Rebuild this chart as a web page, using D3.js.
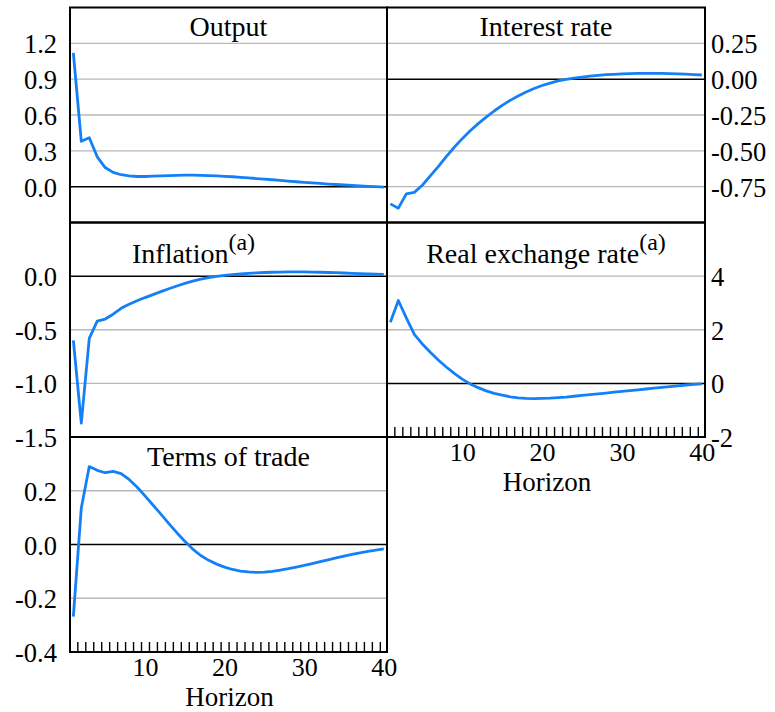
<!DOCTYPE html>
<html>
<head>
<meta charset="utf-8">
<script src="https://cdn.jsdelivr.net/npm/d3@7"></script>
<style>
  html, body { margin: 0; padding: 0; background: #ffffff; }
  svg { display: block; }
  text { font-family: "Liberation Serif", "Times New Roman", serif; fill: #000; }
</style>
</head>
<body>
<svg id="chart" width="775" height="712"></svg>
<script>
// Impulse responses over a 40-quarter horizon
const horizon = d3.range(1, 41);

const output = [1.12, 0.38, 0.41, 0.25, 0.16, 0.12, 0.10, 0.09, 0.085, 0.085,
  0.088, 0.09, 0.093, 0.095, 0.096, 0.096, 0.095, 0.093, 0.09, 0.087,
  0.083, 0.078, 0.073, 0.068, 0.063, 0.058, 0.052, 0.046, 0.041, 0.036,
  0.031, 0.027, 0.022, 0.018, 0.014, 0.010, 0.006, 0.003, 0.0, -0.004];

const interestRate = [-0.87, -0.90, -0.80, -0.79, -0.74, -0.675, -0.61, -0.54, -0.475, -0.415,
  -0.36, -0.31, -0.265, -0.222, -0.183, -0.148, -0.117, -0.089, -0.065, -0.044,
  -0.027, -0.012, -0.002, 0.007, 0.015, 0.021, 0.027, 0.031, 0.034, 0.037,
  0.039, 0.040, 0.041, 0.041, 0.040, 0.039, 0.037, 0.035, 0.032, 0.029];

const inflation = [-0.60, -1.37, -0.58, -0.42, -0.40, -0.355, -0.30, -0.262, -0.23, -0.20,
  -0.172, -0.145, -0.118, -0.092, -0.068, -0.047, -0.029, -0.014, -0.003, 0.006,
  0.014, 0.020, 0.026, 0.030, 0.034, 0.036, 0.038, 0.039, 0.039, 0.039,
  0.038, 0.036, 0.034, 0.032, 0.029, 0.026, 0.024, 0.021, 0.019, 0.017];

const realExchangeRate = [2.28, 3.09, 2.44, 1.83, 1.47, 1.16, 0.87, 0.61, 0.37, 0.16,
  -0.02, -0.16, -0.28, -0.37, -0.44, -0.50, -0.54, -0.56, -0.57, -0.56,
  -0.55, -0.53, -0.51, -0.48, -0.45, -0.42, -0.39, -0.36, -0.33, -0.30,
  -0.27, -0.24, -0.21, -0.18, -0.15, -0.12, -0.09, -0.06, -0.04, -0.02];

const termsOfTrade = [-0.268, 0.136, 0.29, 0.276, 0.267, 0.272, 0.264, 0.242, 0.214, 0.181,
  0.147, 0.113, 0.078, 0.044, 0.012, -0.017, -0.041, -0.059, -0.073, -0.084,
  -0.093, -0.099, -0.102, -0.104, -0.103, -0.100, -0.095, -0.090, -0.084, -0.078,
  -0.071, -0.064, -0.057, -0.050, -0.043, -0.037, -0.031, -0.026, -0.021, -0.016];

// Tick values and their printed labels
const outputTicks = [0, 0.3, 0.6, 0.9, 1.2];
const outputTickLabels = ["0.0", "0.3", "0.6", "0.9", "1.2"];
const interestTicks = [-0.75, -0.5, -0.25, 0, 0.25];
const interestTickLabels = ["-0.75", "-0.50", "-0.25", "0.00", "0.25"];
const inflationTicks = [-1.5, -1.0, -0.5, 0];
const inflationTickLabels = ["-1.5", "-1.0", "-0.5", "0.0"];
const rerTicks = [-2, 0, 2, 4];
const rerTickLabels = ["-2", "0", "2", "4"];
const totTicks = [-0.4, -0.2, 0, 0.2];
const totTickLabels = ["-0.4", "-0.2", "0.0", "0.2"];
const horizonTicks = [10, 20, 30, 40];

const svg = d3.select("#chart");

const cols = [[70, 387], [387, 705]];
const rows = [[7.5, 222.5], [222.5, 437], [437, 652]];

const panels = [
  { title: "Output", sup: null, values: output, col: 0, row: 0, domain: [-0.3, 1.5],
    ticks: outputTicks, labels: outputTickLabels, side: "left", xAxis: false, titleY: 36 },
  { title: "Interest rate", sup: null, values: interestRate, col: 1, row: 0, domain: [-1.0, 0.5],
    ticks: interestTicks, labels: interestTickLabels, side: "right", xAxis: false, titleY: 36 },
  { title: "Inflation", sup: "(a)", values: inflation, col: 0, row: 1, domain: [-1.5, 0.5],
    ticks: inflationTicks, labels: inflationTickLabels, side: "left", xAxis: false, titleY: 263, titleX: 132 },
  { title: "Real exchange rate", sup: "(a)", values: realExchangeRate, col: 1, row: 1, domain: [-2, 6],
    ticks: rerTicks, labels: rerTickLabels, side: "right", xAxis: true, titleY: 263 },
  { title: "Terms of trade", sup: null, values: termsOfTrade, col: 0, row: 2, domain: [-0.4, 0.4],
    ticks: totTicks, labels: totTickLabels, side: "left", xAxis: true, titleY: 466 }
];

panels.forEach(p => {
  const [x0, x1] = cols[p.col];
  const [y0, y1] = rows[p.row];
  const x = d3.scaleLinear().domain([0.58, 40.4]).range([x0, x1]);
  const y = d3.scaleLinear().domain(p.domain).range([y1, y0]);
  const g = svg.append("g");

  // horizontal grid: grey at labelled ticks, black at zero
  g.selectAll("line.grid")
    .data(p.ticks.filter(t => t > p.domain[0] && t < p.domain[1]))
    .join("line")
    .attr("x1", x0).attr("x2", x1)
    .attr("y1", d => y(d)).attr("y2", d => y(d))
    .attr("stroke", d => d === 0 ? "#000" : "#b8b8b8")
    .attr("stroke-width", d => d === 0 ? 1.5 : 1.3);

  // response line
  const line = d3.line().x((d, i) => x(horizon[i])).y(d => y(d));
  g.append("path")
    .datum(p.values)
    .attr("d", line)
    .attr("fill", "none")
    .attr("stroke", "#1480f7")
    .attr("stroke-width", 2.8)
    .attr("stroke-linejoin", "round");

  // value axis
  const labelOf = new Map(p.ticks.map((t, i) => [t, p.labels[i]]));
  const yAxis = (p.side === "left" ? d3.axisLeft(y) : d3.axisRight(y))
    .tickValues(p.ticks)
    .tickFormat(d => labelOf.get(d))
    .tickSize(0)
    .tickPadding(p.side === "left" ? 13 : 6);
  const ya = g.append("g")
    .attr("transform", `translate(${p.side === "left" ? x0 : x1},0)`)
    .call(yAxis);
  ya.select(".domain").remove();
  ya.selectAll("text")
    .attr("font-family", "Liberation Serif")
    .attr("font-size", 26.5)
    .attr("dy", "0.36em");

  // horizon axis: inward minor ticks between periods, labels every ten
  if (p.xAxis) {
    const minor = d3.axisBottom(x)
      .tickValues(d3.range(1.5, 40, 1))
      .tickFormat("")
      .tickSize(-10);
    const xm = g.append("g").attr("transform", `translate(0,${y1})`).call(minor);
    xm.select(".domain").remove();
    xm.selectAll("line").attr("stroke", "#000").attr("stroke-width", 1.4);

    const major = d3.axisBottom(x)
      .tickValues(horizonTicks)
      .tickFormat(d3.format("d"))
      .tickSize(0)
      .tickPadding(6);
    const xa = g.append("g").attr("transform", `translate(0,${y1})`).call(major);
    xa.select(".domain").remove();
    xa.selectAll("text")
      .attr("font-family", "Liberation Serif")
      .attr("font-size", 26)
      .attr("dy", "0.71em");

    g.append("text")
      .attr("x", (x0 + x1) / 2 + 1)
      .attr("y", y1 + 54)
      .attr("text-anchor", "middle")
      .attr("font-size", 27)
      .text("Horizon");
  }

  // panel frame
  g.append("rect")
    .attr("x", x0).attr("y", y0)
    .attr("width", x1 - x0).attr("height", y1 - y0)
    .attr("fill", "none")
    .attr("stroke", "#000")
    .attr("stroke-width", 2);

  // title with optional superscript note
  const t = g.append("text")
    .attr("x", p.titleX !== undefined ? p.titleX : (x0 + x1) / 2)
    .attr("y", p.titleY)
    .attr("text-anchor", p.titleX !== undefined ? "start" : "middle")
    .attr("font-size", 28);
  t.append("tspan").text(p.title);
  if (p.sup) {
    t.append("tspan").attr("dy", -13).attr("font-size", 24).text(p.sup);
  }
});
</script>
</body>
</html>
